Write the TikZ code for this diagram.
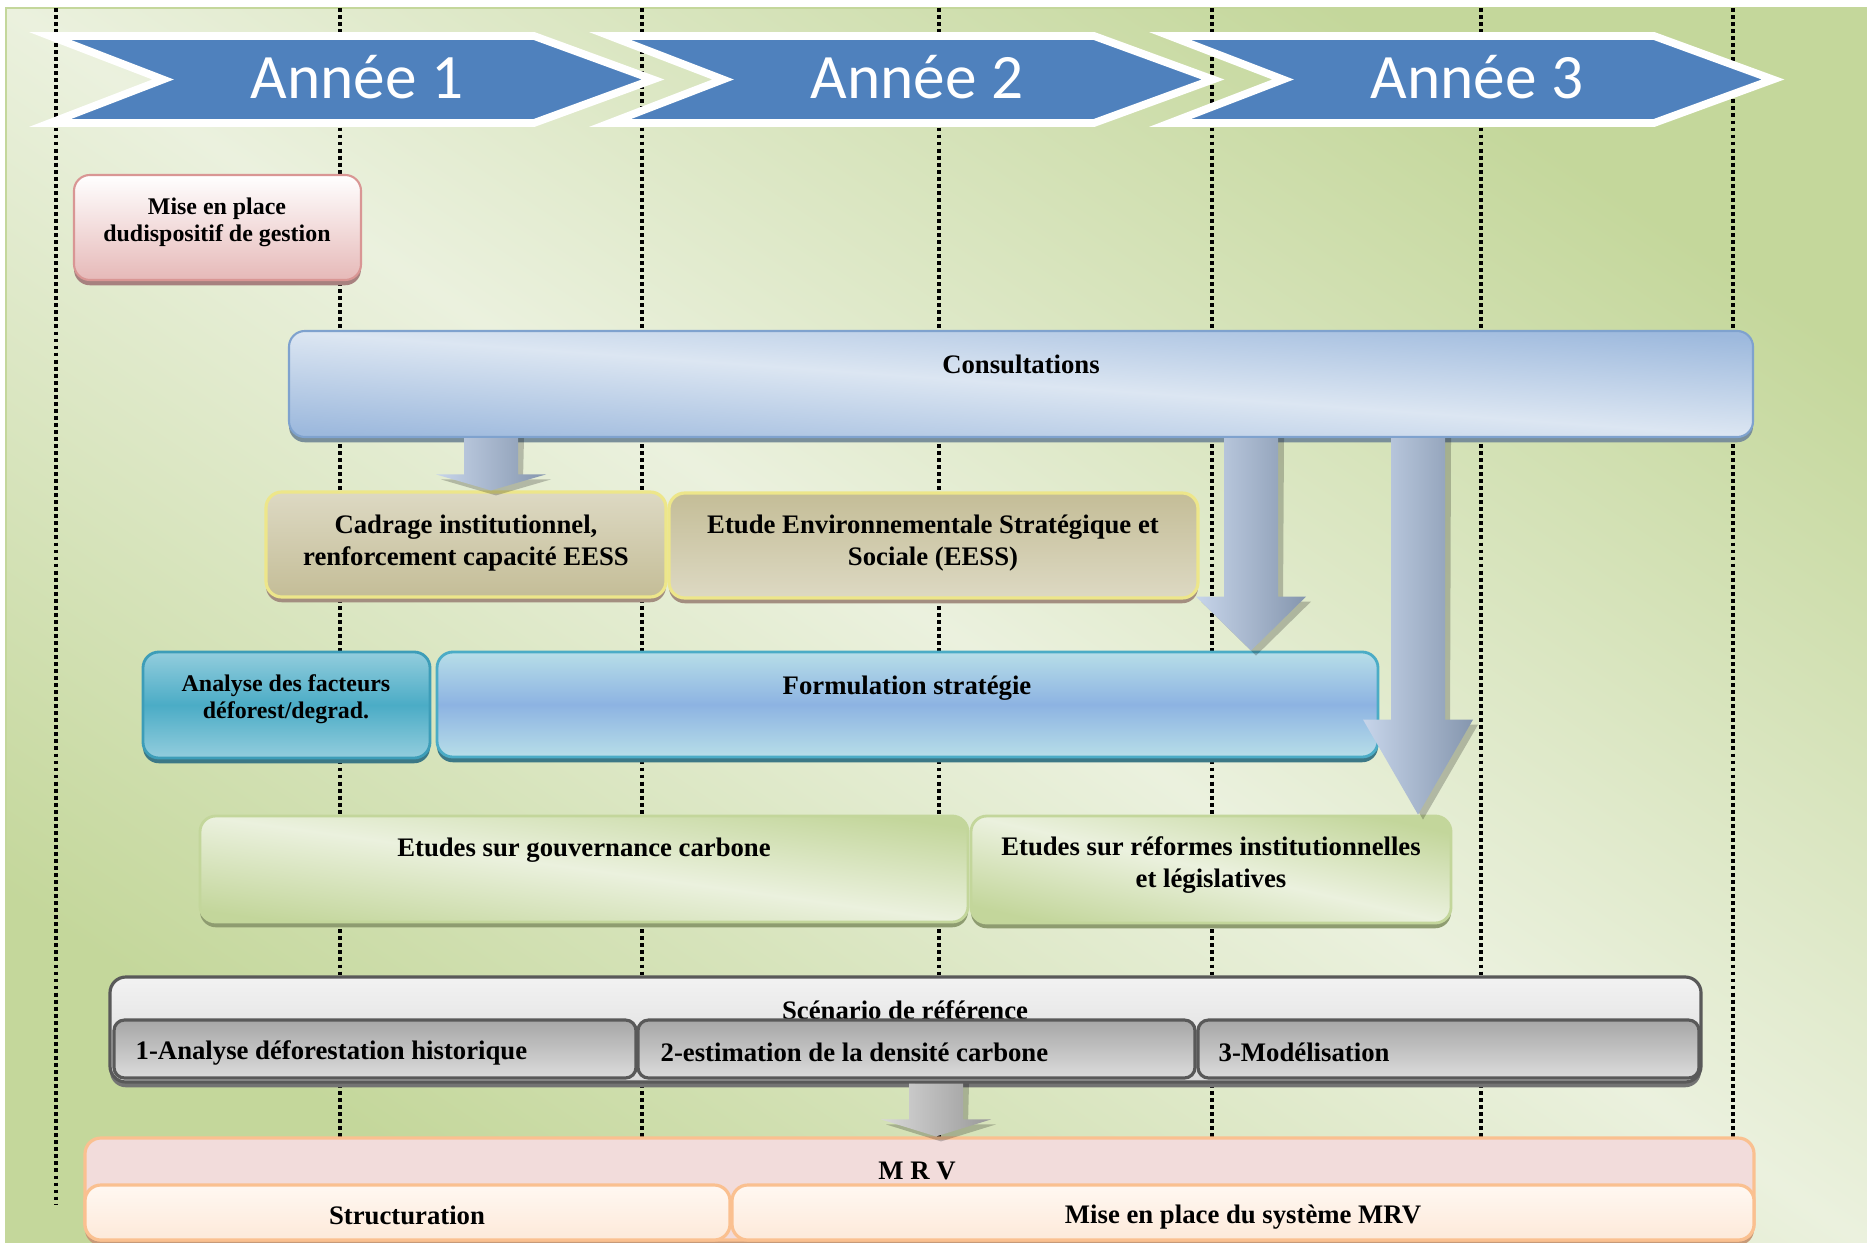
\documentclass[tikz,border=0pt]{standalone}
\usepackage{fontspec}
\setmainfont{Liberation Serif}
\newfontfamily\chevfont{Carlito}
\usetikzlibrary{shadows,fit,calc}

% block arrow between two boxes: x, from, to, head length, style
\newcommand\blockarrow[5]{%
  \path (#2.south -| #1,0) coordinate (as) (#3.north -| #1,0) coordinate (ae);
  \path ($(as)+(6,0)$) coordinate (bs) ($(ae)+(5,5)$) coordinate (be);
  \fill[black, opacity=.22] ($(bs)+(-27,0)$) -- ($(bs)+(27,0)$) -- ($(be)+(27,-#4)$) -- ($(be)+(55,-#4)$)
     -- (be) -- ($(be)+(-55,-#4)$) -- ($(be)+(-27,-#4)$) -- cycle;
  \shade[#5] ($(as)+(-27,0)$) -- ($(as)+(27,0)$) -- ($(ae)+(27,-#4)$) -- ($(ae)+(55,-#4)$)
     -- (ae) -- ($(ae)+(-55,-#4)$) -- ($(ae)+(-27,-#4)$) -- cycle;
}

\begin{document}
\begin{tikzpicture}[x=0.01cm, y=-0.01cm,
    box/.style={rectangle, rounded corners=4.5pt, inner sep=0pt, line width=0.6pt},
    shadowed/.style={drop shadow={shadow xshift=0pt, shadow yshift=-1.5pt, opacity=1, fill=#1}},
    diag/.style={top color=#1, bottom color=#1},
    lbl/.style={font=\fontsize{7.6}{9.1}\selectfont\bfseries, align=center, inner sep=0pt},
    lblsmall/.style={lbl, font=\fontsize{6.8}{7.7}\selectfont\bfseries},
    gridline/.style={line width=0.95pt, dash pattern=on 1.1pt off 0.9pt},
    chevron/.style={fill=chev, draw=white, line width=2.2pt},
    yeartxt/.style={font=\chevfont\fontsize{18}{20}\selectfont, text=white, inner sep=0pt},
    bluearrow/.style={left color=arrlight, right color=arrdark},
    greyarrow/.style={left color=gray!30, right color=gray!80},
  ]

\definecolor{chev}{HTML}{4F81BD}
\definecolor{bgdark}{HTML}{C4D79B}
\definecolor{bglight}{HTML}{EBF1DE}
\definecolor{pinkbot}{HTML}{E6B9B8}
\definecolor{pinkline}{HTML}{D99694}
\definecolor{pinkshadow}{HTML}{A7817F}
\definecolor{bluelight}{HTML}{DCE6F2}
\definecolor{bluedark}{HTML}{9DB9DD}
\definecolor{blueline}{HTML}{7FA2CE}
\definecolor{blueshadow}{HTML}{7A8F9A}
\definecolor{tanlight}{HTML}{DDD9C3}
\definecolor{tandark}{HTML}{C4BD97}
\definecolor{tanline}{HTML}{EDE68A}
\definecolor{tanshadow}{HTML}{A38E80}
\definecolor{teallight}{HTML}{93CDDD}
\definecolor{teal}{HTML}{4BACC6}
\definecolor{tealline}{HTML}{3D9DB8}
\definecolor{tealshadow}{HTML}{3C7886}
\definecolor{cyanlight}{HTML}{B7DEE8}
\definecolor{skyblue}{HTML}{8DB3E2}
\definecolor{greenline}{HTML}{C3D69B}
\definecolor{greenshadow}{HTML}{8E9C70}
\definecolor{greylight}{HTML}{F2F2F2}
\definecolor{greymid}{HTML}{D9D9D9}
\definecolor{greydark}{HTML}{A6A6A6}
\definecolor{greyinner}{HTML}{DCDCDC}
\definecolor{greyline}{HTML}{595959}
\definecolor{greyshadow}{HTML}{737373}
\definecolor{mrvpink}{HTML}{F2DCDB}
\definecolor{mrvline}{HTML}{FAC090}
\definecolor{mrvshadow}{HTML}{C79A78}
\definecolor{peachlight}{HTML}{FFF8F2}
\definecolor{peach}{HTML}{FDE9D9}
\definecolor{arrlight}{HTML}{C7D5EA}
\definecolor{arrdark}{HTML}{8596AE}

\useasboundingbox (0,0) rectangle (1867,1243);
\fill[white] (0,0) rectangle (1867,1243);
\shade[diag=bgdark, middle color=bglight, shading angle=-33.6] (6,8) rectangle (1867,1243);
\draw[bgdark, line width=0.5pt] (1867,8) -- (6,8) -- (6,1243);

\foreach \x in {56,340,642,939,1212,1481,1733}
    \draw[gridline] (\x,8) -- (\x,1205);

\foreach \i/\n in {0/1,1/2,2/3} {
    \draw[chevron] (50+560*\i,36) -- ++(484,0) -- ++(119,43.5) -- ++(-119,43.5) -- ++(-484,0) -- ++(113,-43.5) -- cycle;
    \node[yeartxt] (year\n) at (357+560*\i,77) {Année \n};
}

\node[box, fit={(74,175) (361,280)}, top color=white, bottom color=pinkbot, draw=pinkline, shadowed=pinkshadow] (mise) {};
\node[lblsmall] (mise-t) at (217,222) {Mise en place\\dudispositif de gestion};

\node[box, fit={(289,331) (1753,437)}, diag=bluedark, middle color=bluelight, shading angle=-4.1, draw=blueline, shadowed=blueshadow] (consult) {};
\node[lbl] (consult-t) at (1021,364) {Consultations};

\node[box, fit={(266,492) (666,597)}, top color=tanlight, bottom color=tandark, draw=tanline, line width=0.9pt, shadowed=tanshadow] (cadrage) {};
\node[lbl] (cadrage-t) at (466,543) {Cadrage institutionnel,\\renforcement capacité EESS};
\node[box, fit={(669,493) (1198,598)}, top color=tandark, bottom color=tanlight, draw=tanline, line width=0.9pt, shadowed=tanshadow] (eess) {};
\node[lbl] (eess-t) at (933,543) {Etude Environnementale Stratégique et\\Sociale (EESS)};

\node[box, fit={(143,652) (430,758)}, diag=teallight, middle color=teal, draw=tealline, line width=0.8pt, shadowed=tealshadow] (analyse) {};
\node[lblsmall] (analyse-t) at (286,699) {Analyse des facteurs\\déforest/degrad.};
\node[box, fit={(437,652) (1378,757)}, diag=cyanlight, middle color=skyblue, draw=teal, line width=0.8pt, shadowed=tealshadow] (formul) {};
\node[lbl] (formul-t) at (907,688) {Formulation stratégie};

\node[box, fit={(200,816) (968,922)}, diag=greenline, middle color=bglight, shading angle=-7.9, draw=greenline, line width=0.8pt, shadowed=greenshadow] (gouv) {};
\node[lbl] (gouv-t) at (584,850) {Etudes sur gouvernance carbone};
\node[box, fit={(971,816) (1451,923)}, diag=greenline, middle color=bglight, shading angle=-12.6, draw=greenline, line width=0.8pt, shadowed=greenshadow] (reform) {};
\node[lbl] (reform-t) at (1211,865) {Etudes sur réformes institutionnelles\\et législatives};

\node[box, fit={(110,977) (1701,1082)}, top color=greylight, bottom color=greymid, draw=greyline, line width=0.9pt, shadowed=greyshadow] (scen) {};
\node[lbl] (scen-t) at (905,1010) {Scénario de référence};
\node[box, rounded corners=3pt, fit={(114,1020) (636,1078)}, top color=greydark, bottom color=greyinner, draw=greyline, line width=0.9pt] (s1) {};
\node[box, rounded corners=3pt, fit={(638,1020) (1195,1078)}, top color=greydark, bottom color=greyinner, draw=greyline, line width=0.9pt] (s2) {};
\node[box, rounded corners=3pt, fit={(1198,1020) (1699,1078)}, top color=greydark, bottom color=greyinner, draw=greyline, line width=0.9pt] (s3) {};
\node[lbl, anchor=west] (s1-t) at (135,1053) {1-Analyse déforestation historique};
\node[lbl, anchor=west] (s2-t) at (660,1052) {2-estimation de la densité carbone};
\node[lbl, anchor=west] (s3-t) at (1218,1052) {3-Modélisation};

\node[box, fit={(85,1138) (1754,1240)}, fill=mrvpink, draw=mrvline, line width=0.9pt, shadowed=mrvshadow] (mrv) {};
\node[lbl] (mrv-t) at (917,1171) {M R V};
\node[box, fit={(85,1185) (730,1240)}, top color=peachlight, bottom color=peach, draw=mrvline, line width=0.9pt] (struct) {};
\node[lbl] (struct-t) at (407,1215) {Structuration};
\node[box, fit={(732,1185) (1754,1240)}, top color=peachlight, bottom color=peach, draw=mrvline, line width=0.9pt] (mrvsys) {};
\node[lbl] (mrvsys-t) at (1243,1217) {Mise en place du système MRV};

\blockarrow{491}{consult}{cadrage}{16}{bluearrow}
\blockarrow{1251}{consult}{formul}{54}{bluearrow}
\blockarrow{1418}{consult}{reform}{95}{bluearrow}
\blockarrow{936}{scen}{mrv}{17}{greyarrow}
% ..
\end{tikzpicture}
\end{document}
